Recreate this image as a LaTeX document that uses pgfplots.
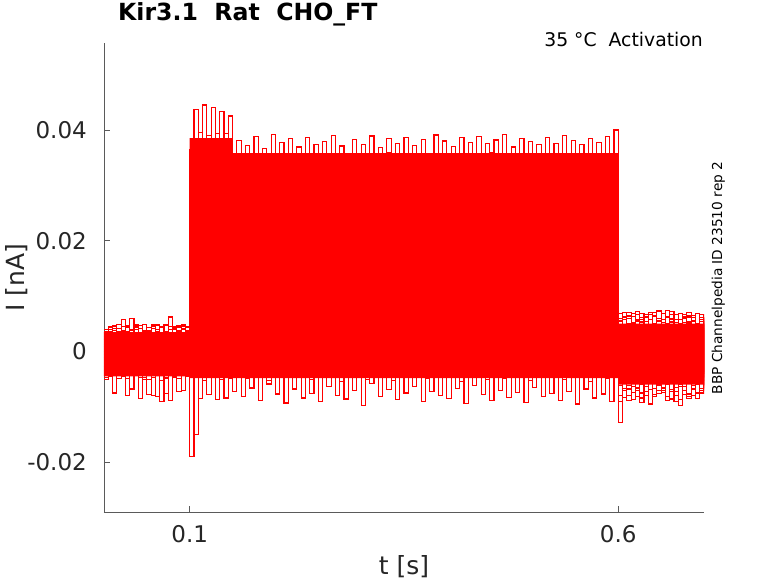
\documentclass[border=0pt]{standalone}
\usepackage{pgfplots}
\pgfplotsset{compat=1.18}
\usepackage{pgfplotstable}
\usepackage{fontspec}
\setmainfont{DejaVu Sans}
\definecolor{axgray}{RGB}{90,90,90}
\definecolor{txtgray}{RGB}{38,38,38}
\definecolor{trace}{RGB}{255,0,0}

\pgfplotstableread{
x t1 t2 t3 t4 t5 t6 t7 t8 t9 t10 t11 t12
0.000 0.0021 -0.0034 0.0008 -0.0047 0.0035 -0.0012 0.0040 -0.0028 0.0013 -0.0051 0.0027 -0.0006
0.005 -0.0038 0.0029 -0.0041 0.0036 -0.0019 0.0044 -0.0033 0.0017 -0.0045 0.0031 -0.0024 0.0039
0.010 0.0042 -0.0017 0.0033 -0.0008 0.0046 -0.0039 0.0011 -0.0075 0.0038 -0.0014 0.0045 -0.0031
0.015 -0.0026 0.0048 -0.0013 0.0027 -0.0044 0.0019 -0.0049 0.0035 -0.0022 0.0041 -0.0036 0.0012
0.020 0.0034 -0.0043 0.0045 -0.0031 0.0009 -0.0027 0.0037 -0.0011 0.0058 -0.0046 0.0016 -0.0040
0.025 -0.0049 0.0015 -0.0030 0.0043 -0.0035 0.0032 -0.0018 0.0046 -0.0039 0.0024 -0.0080 0.0036
0.030 0.0018 -0.0036 0.0060 -0.0022 0.0040 -0.0068 0.0029 -0.0033 0.0007 -0.0029 0.0038 -0.0015
0.035 -0.0033 0.0040 -0.0020 0.0049 -0.0012 0.0023 -0.0044 0.0021 -0.0031 0.0047 -0.0009 0.0044
0.040 0.0047 -0.0021 0.0026 -0.0039 0.0031 -0.0085 0.0012 -0.0040 0.0042 -0.0018 0.0033 -0.0047
0.045 -0.0015 0.0035 -0.0047 0.0014 -0.0050 0.0038 -0.0029 0.0049 -0.0016 0.0028 -0.0041 0.0025
0.050 0.0029 -0.0050 0.0017 -0.0033 0.0037 -0.0011 0.0043 -0.0024 0.0034 -0.0078 0.0022 -0.0034
0.055 -0.0044 0.0023 -0.0036 0.0041 -0.0027 0.0046 -0.0079 0.0031 -0.0047 0.0019 -0.0030 0.0049
0.060 0.0036 -0.0029 0.0040 -0.0016 0.0049 -0.0032 0.0025 -0.0082 0.0028 -0.0035 0.0047 -0.0020
0.065 -0.0052 0.0045 -0.0025 0.0032 -0.0041 0.0015 -0.0037 0.0018 -0.0090 0.0043 -0.0019 0.0030
0.070 0.0013 -0.0040 0.0048 -0.0076 0.0022 -0.0043 0.0047 -0.0030 0.0016 -0.0048 0.0035 -0.0043
0.075 -0.0030 0.0031 -0.0014 0.0045 -0.0035 0.0062 -0.0021 0.0040 -0.0041 0.0026 -0.0088 0.0018
0.080 0.0044 -0.0047 0.0032 -0.0026 0.0041 -0.0024 0.0033 -0.0045 0.0039 -0.0012 0.0029 -0.0038
0.085 -0.0021 0.0026 -0.0049 0.0038 -0.0013 0.0035 -0.0072 0.0027 -0.0025 0.0044 -0.0037 0.0046
0.090 0.0039 -0.0014 0.0021 -0.0042 0.0046 -0.0070 0.0019 -0.0036 0.0048 -0.0031 0.0041 -0.0027
0.095 -0.0046 0.0037 -0.0039 0.0025 -0.0028 0.0030 -0.0043 0.0044 -0.0017 0.0036 -0.0026 0.0033
0.100 -0.0190 0.0027 -0.0011 0.0083 0.0073 0.0179 0.0135 0.0226 0.0194 0.0313 0.0365 0.0355
0.105 -0.0005 -0.0150 0.0074 0.0026 0.0141 0.0088 0.0208 0.0161 0.0269 0.0233 0.0309 0.0437
0.110 -0.0085 0.0038 -0.0016 0.0112 0.0057 0.0174 0.0122 0.0251 0.0203 0.0319 0.0396 0.0345
0.115 0.0002 -0.0052 0.0069 0.0021 0.0148 0.0093 0.0215 0.0166 0.0287 0.0230 0.0306 0.0445
0.120 -0.0078 0.0035 -0.0003 0.0107 0.0054 0.0183 0.0129 0.0248 0.0195 0.0315 0.0390 0.0340
0.125 0.0006 -0.0046 0.0077 0.0019 0.0137 0.0095 0.0219 0.0157 0.0283 0.0237 0.0304 0.0440
0.130 -0.0087 0.0044 -0.0015 0.0101 0.0060 0.0180 0.0133 0.0245 0.0191 0.0323 0.0394 0.0337
0.135 -0.0001 -0.0050 0.0072 0.0024 0.0146 0.0090 0.0213 0.0163 0.0281 0.0228 0.0311 0.0433
0.140 -0.0084 0.0032 -0.0018 0.0114 0.0051 0.0176 0.0125 0.0252 0.0199 0.0318 0.0393 0.0338
0.145 0.0004 -0.0048 0.0075 0.0027 0.0143 0.0087 0.0217 0.0160 0.0288 0.0232 0.0290 0.0425
0.150 -0.0072 0.0028 0.0066 0.0031 0.0139 0.0102 0.0141 0.0238 0.0207 0.0309 0.0347 0.0303
0.155 -0.0008 -0.0039 -0.0004 0.0098 0.0063 0.0171 0.0204 0.0172 0.0276 0.0241 0.0275 0.0381
0.160 -0.0081 0.0037 0.0035 0.0022 0.0128 0.0094 0.0133 0.0249 0.0236 0.0318 0.0339 0.0296
0.165 0.0003 -0.0048 0.0074 0.0107 0.0058 0.0178 0.0212 0.0163 0.0198 0.0232 0.0268 0.0372
0.170 -0.0066 0.0019 -0.0012 0.0029 0.0146 0.0089 0.0176 0.0231 0.0283 0.0321 0.0355 0.0314
0.175 -0.0014 -0.0031 0.0058 0.0112 0.0071 0.0163 0.0126 0.0159 0.0203 0.0238 0.0306 0.0388
0.180 -0.0088 0.0041 -0.0019 0.0018 0.0133 0.0097 0.0216 0.0244 0.0268 0.0297 0.0263 0.0299
0.185 0.0006 -0.0002 0.0077 0.0094 0.0052 0.0182 0.0129 0.0168 0.0195 0.0229 0.0352 0.0366
0.190 -0.0059 -0.0053 0.0004 0.0037 0.0149 0.0112 0.0198 0.0253 0.0279 0.0311 0.0271 0.0338
0.195 -0.0003 0.0033 0.0069 0.0103 0.0066 0.0159 0.0138 0.0176 0.0212 0.0247 0.0341 0.0392
0.200 -0.0077 -0.0044 -0.0009 0.0061 0.0141 0.0091 0.0207 0.0236 0.0287 0.0322 0.0282 0.0305
0.205 -0.0021 0.0025 0.0079 0.0024 0.0055 0.0184 0.0123 0.0161 0.0239 0.0226 0.0358 0.0377
0.210 -0.0093 -0.0036 -0.0016 0.0109 0.0137 0.0098 0.0219 0.0247 0.0193 0.0316 0.0266 0.0292
0.215 0.0000 0.0043 0.0062 0.0016 0.0061 0.0176 0.0131 0.0208 0.0281 0.0234 0.0344 0.0384
0.220 -0.0068 -0.0047 0.0027 0.0115 0.0144 0.0086 0.0211 0.0157 0.0205 0.0301 0.0277 0.0307
0.225 -0.0011 0.0039 0.0071 0.0033 0.0069 0.0167 0.0124 0.0251 0.0273 0.0242 0.0349 0.0369
0.230 -0.0084 -0.0028 -0.0007 0.0096 0.0103 0.0108 0.0203 0.0171 0.0197 0.0324 0.0261 0.0301
0.235 0.0008 0.0031 0.0080 0.0020 0.0149 0.0181 0.0142 0.0240 0.0285 0.0231 0.0337 0.0386
0.240 -0.0076 -0.0051 -0.0013 0.0104 0.0057 0.0093 0.0217 0.0164 0.0243 0.0306 0.0274 0.0295
0.245 -0.0006 -0.0008 0.0067 0.0028 0.0131 0.0172 0.0128 0.0237 0.0201 0.0239 0.0356 0.0373
0.250 -0.0090 0.0035 -0.0005 0.0111 0.0064 0.0101 0.0206 0.0169 0.0277 0.0319 0.0279 0.0318
0.255 -0.0018 -0.0042 0.0075 0.0025 0.0142 0.0179 0.0137 0.0254 0.0209 0.0227 0.0345 0.0379
0.260 -0.0063 0.0022 -0.0020 0.0099 0.0053 0.0088 0.0214 0.0158 0.0289 0.0270 0.0268 0.0297
0.265 0.0005 -0.0037 0.0060 0.0019 0.0147 0.0161 0.0121 0.0229 0.0196 0.0313 0.0333 0.0390
0.270 -0.0079 0.0044 0.0032 0.0113 0.0059 0.0104 0.0221 0.0174 0.0264 0.0236 0.0285 0.0309
0.275 -0.0012 -0.0054 0.0073 0.0030 0.0126 0.0185 0.0134 0.0246 0.0214 0.0320 0.0353 0.0371
0.280 -0.0086 0.0027 -0.0010 0.0092 0.0068 0.0096 0.0200 0.0199 0.0271 0.0230 0.0263 0.0293
0.285 -0.0001 -0.0033 0.0078 0.0017 0.0150 0.0168 0.0139 0.0255 0.0192 0.0304 0.0342 0.0347
0.290 -0.0071 0.0040 -0.0017 0.0108 0.0051 0.0087 0.0213 0.0162 0.0280 0.0244 0.0272 0.0383
0.295 -0.0016 -0.0045 0.0065 0.0035 0.0138 0.0174 0.0120 0.0232 0.0206 0.0317 0.0350 0.0302
0.300 -0.0097 0.0030 -0.0002 0.0101 0.0097 0.0099 0.0208 0.0166 0.0274 0.0228 0.0262 0.0374
0.305 0.0007 -0.0050 0.0076 0.0023 0.0145 0.0183 0.0127 0.0250 0.0199 0.0325 0.0357 0.0298
0.310 -0.0058 0.0036 -0.0014 0.0114 0.0062 0.0132 0.0218 0.0160 0.0286 0.0240 0.0270 0.0389
0.315 -0.0009 -0.0029 0.0068 0.0026 0.0134 0.0090 0.0132 0.0243 0.0204 0.0300 0.0348 0.0306
0.320 -0.0082 0.0042 -0.0018 0.0100 0.0056 0.0177 0.0210 0.0173 0.0270 0.0233 0.0276 0.0368
0.325 0.0002 -0.0040 0.0072 0.0021 0.0148 0.0095 0.0125 0.0239 0.0211 0.0323 0.0312 0.0291
0.330 -0.0069 0.0024 -0.0008 0.0110 0.0065 0.0169 0.0220 0.0156 0.0282 0.0237 0.0359 0.0385
0.335 -0.0013 -0.0052 0.0079 0.0034 0.0140 0.0103 0.0136 0.0252 0.0194 0.0310 0.0267 0.0300
0.340 -0.0087 0.0038 0.0029 0.0106 0.0054 0.0180 0.0205 0.0170 0.0278 0.0226 0.0340 0.0376
0.345 -0.0004 -0.0035 0.0063 0.0016 0.0151 0.0092 0.0130 0.0245 0.0202 0.0321 0.0280 0.0304
0.350 -0.0075 0.0045 -0.0015 0.0097 0.0060 0.0173 0.0215 0.0165 0.0288 0.0248 0.0346 0.0387
0.355 -0.0019 -0.0046 0.0070 0.0028 0.0136 0.0086 0.0122 0.0234 0.0190 0.0315 0.0265 0.0296
0.360 -0.0064 0.0029 -0.0011 0.0115 0.0099 0.0186 0.0202 0.0175 0.0266 0.0232 0.0351 0.0372
0.365 0.0004 -0.0038 0.0081 0.0022 0.0143 0.0107 0.0138 0.0248 0.0215 0.0302 0.0278 0.0310
0.370 -0.0091 0.0034 -0.0006 0.0102 0.0058 0.0165 0.0209 0.0203 0.0284 0.0239 0.0343 0.0383
0.375 -0.0010 -0.0049 0.0066 0.0032 0.0147 0.0094 0.0124 0.0241 0.0197 0.0318 0.0260 0.0294
0.380 -0.0073 0.0041 -0.0019 0.0111 0.0067 0.0178 0.0218 0.0161 0.0272 0.0229 0.0354 0.0335
0.385 -0.0002 -0.0043 0.0077 0.0018 0.0139 0.0089 0.0133 0.0253 0.0208 0.0322 0.0271 0.0391
0.390 -0.0080 0.0026 -0.0004 0.0095 0.0052 0.0170 0.0204 0.0168 0.0281 0.0235 0.0338 0.0303
0.395 -0.0015 -0.0032 0.0074 0.0036 0.0152 0.0100 0.0129 0.0238 0.0200 0.0308 0.0264 0.0380
0.400 -0.0085 0.0043 -0.0012 0.0108 0.0063 0.0182 0.0214 0.0157 0.0276 0.0244 0.0357 0.0297
0.405 0.0001 -0.0047 0.0069 0.0020 0.0130 0.0097 0.0140 0.0249 0.0213 0.0316 0.0283 0.0370
0.410 -0.0067 0.0020 -0.0016 0.0113 0.0055 0.0175 0.0168 0.0172 0.0287 0.0231 0.0349 0.0308
0.415 -0.0007 -0.0055 0.0078 0.0027 0.0144 0.0091 0.0221 0.0235 0.0193 0.0324 0.0269 0.0386
0.420 -0.0094 0.0033 -0.0009 0.0099 0.0070 0.0166 0.0123 0.0163 0.0269 0.0227 0.0336 0.0299
0.425 -0.0020 -0.0039 0.0071 0.0031 0.0149 0.0105 0.0212 0.0247 0.0204 0.0312 0.0273 0.0377
0.430 -0.0061 0.0039 -0.0017 0.0110 0.0057 0.0181 0.0135 0.0159 0.0285 0.0238 0.0352 0.0293
0.435 0.0003 -0.0044 0.0064 0.0024 0.0127 0.0088 0.0207 0.0255 0.0198 0.0305 0.0266 0.0388
0.440 -0.0078 0.0031 -0.0003 0.0105 0.0066 0.0171 0.0126 0.0210 0.0279 0.0234 0.0344 0.0311
0.445 -0.0012 -0.0051 0.0080 0.0019 0.0146 0.0096 0.0219 0.0242 0.0210 0.0320 0.0277 0.0375
0.450 -0.0089 0.0046 -0.0014 0.0098 0.0053 0.0184 0.0131 0.0167 0.0290 0.0243 0.0359 0.0300
0.455 -0.0003 -0.0030 0.0067 0.0033 0.0141 0.0093 0.0216 0.0233 0.0195 0.0309 0.0262 0.0382
0.460 -0.0070 0.0037 -0.0020 0.0112 0.0061 0.0168 0.0121 0.0160 0.0267 0.0230 0.0347 0.0296
0.465 -0.0017 -0.0048 0.0075 0.0025 0.0150 0.0101 0.0209 0.0251 0.0206 0.0323 0.0281 0.0392
0.470 -0.0083 0.0028 -0.0007 0.0103 0.0050 0.0179 0.0137 0.0174 0.0283 0.0240 0.0340 0.0305
0.475 0.0006 -0.0036 0.0073 0.0021 0.0135 0.0087 0.0220 0.0239 0.0201 0.0314 0.0270 0.0369
0.480 -0.0074 0.0044 -0.0013 0.0109 0.0068 0.0176 0.0128 0.0156 0.0275 0.0228 0.0355 0.0292
0.485 -0.0008 -0.0041 0.0062 0.0030 0.0148 0.0098 0.0211 0.0246 0.0192 0.0319 0.0275 0.0384
0.490 -0.0092 0.0032 -0.0010 0.0096 0.0059 0.0185 0.0124 0.0169 0.0286 0.0236 0.0350 0.0309
0.495 -0.0001 -0.0053 0.0079 0.0017 0.0137 0.0090 0.0217 0.0254 0.0207 0.0306 0.0264 0.0379
0.500 -0.0065 0.0023 -0.0018 0.0114 0.0054 0.0172 0.0133 0.0162 0.0271 0.0233 0.0342 0.0298
0.505 -0.0014 -0.0034 0.0070 0.0029 0.0143 0.0104 0.0206 0.0244 0.0196 0.0325 0.0280 0.0373
0.510 -0.0081 0.0040 -0.0005 0.0101 0.0062 0.0181 0.0139 0.0170 0.0284 0.0242 0.0356 0.0303
0.515 0.0002 -0.0046 0.0076 0.0022 0.0152 0.0095 0.0214 0.0236 0.0212 0.0311 0.0268 0.0387
0.520 -0.0076 0.0035 -0.0015 0.0107 0.0056 0.0169 0.0122 0.0158 0.0278 0.0229 0.0346 0.0295
0.525 -0.0006 -0.0042 0.0068 0.0034 0.0140 0.0086 0.0218 0.0250 0.0199 0.0318 0.0272 0.0376
0.530 -0.0088 0.0027 -0.0008 0.0111 0.0064 0.0177 0.0130 0.0165 0.0288 0.0237 0.0339 0.0306
0.535 -0.0011 -0.0050 0.0081 0.0018 0.0147 0.0100 0.0210 0.0241 0.0203 0.0321 0.0263 0.0390
0.540 -0.0072 0.0038 -0.0012 0.0100 0.0051 0.0183 0.0126 0.0173 0.0273 0.0246 0.0353 0.0294
0.545 0.0000 -0.0037 0.0066 0.0027 0.0134 0.0092 0.0219 0.0248 0.0208 0.0304 0.0276 0.0381
0.550 -0.0095 0.0042 -0.0019 0.0110 0.0060 0.0174 0.0136 0.0160 0.0282 0.0232 0.0348 0.0301
0.555 -0.0016 -0.0045 0.0074 0.0023 0.0149 0.0089 0.0208 0.0253 0.0194 0.0317 0.0267 0.0374
0.560 -0.0068 0.0030 -0.0006 0.0104 0.0057 0.0180 0.0129 0.0168 0.0276 0.0241 0.0358 0.0297
0.565 -0.0004 -0.0054 0.0078 0.0031 0.0138 0.0099 0.0215 0.0237 0.0205 0.0310 0.0279 0.0385
0.570 -0.0084 0.0036 -0.0016 0.0112 0.0066 0.0170 0.0123 0.0157 0.0285 0.0227 0.0343 0.0308
0.575 -0.0009 -0.0039 0.0065 0.0020 0.0145 0.0106 0.0212 0.0245 0.0198 0.0322 0.0270 0.0378
0.580 -0.0077 0.0025 -0.0011 0.0097 0.0053 0.0186 0.0138 0.0171 0.0280 0.0235 0.0351 0.0299
0.585 0.0005 -0.0048 0.0072 0.0035 0.0150 0.0094 0.0220 0.0252 0.0211 0.0313 0.0265 0.0388
0.590 -0.0090 0.0043 -0.0014 0.0106 0.0061 0.0175 0.0125 0.0164 0.0274 0.0238 0.0345 0.0302
0.595 -0.0013 -0.0040 0.0070 0.0026 0.0141 0.0097 0.0209 0.0240 0.0202 0.0319 0.0274 0.0400
0.600 -0.0062 0.0055 -0.0128 0.0041 -0.0079 0.0068 -0.0045 0.0032 -0.0090 0.0060 -0.0036 0.0049
0.605 0.0048 -0.0071 0.0036 -0.0058 0.0062 -0.0040 0.0057 -0.0083 0.0044 -0.0067 0.0071 -0.0052
0.610 -0.0055 0.0059 -0.0068 0.0050 -0.0037 0.0070 -0.0079 0.0046 -0.0061 0.0038 -0.0088 0.0064
0.615 0.0063 -0.0046 0.0052 -0.0087 0.0045 -0.0063 0.0034 -0.0056 0.0069 -0.0074 0.0051 -0.0039
0.620 -0.0081 0.0040 -0.0039 0.0066 -0.0070 0.0047 -0.0058 0.0072 -0.0044 0.0055 -0.0066 0.0058
0.625 0.0037 -0.0084 0.0069 -0.0033 0.0058 -0.0092 0.0061 -0.0041 0.0053 -0.0059 0.0043 -0.0075
0.630 -0.0049 0.0066 -0.0056 0.0054 -0.0064 0.0039 -0.0072 0.0063 -0.0080 0.0047 -0.0051 0.0061
0.635 0.0070 -0.0038 0.0044 -0.0069 0.0035 -0.0055 0.0048 -0.0095 0.0058 -0.0043 0.0067 -0.0047
0.640 -0.0067 0.0051 -0.0082 0.0043 -0.0052 0.0064 -0.0036 0.0050 -0.0057 0.0071 -0.0078 0.0036
0.645 0.0055 -0.0060 0.0038 -0.0048 0.0073 -0.0076 0.0059 -0.0045 0.0040 -0.0062 0.0049 -0.0070
0.650 -0.0074 0.0045 -0.0050 0.0069 -0.0043 0.0052 -0.0066 0.0068 -0.0071 0.0035 -0.0054 0.0057
0.655 0.0042 -0.0089 0.0061 -0.0040 0.0050 -0.0034 0.0074 -0.0060 0.0063 -0.0081 0.0039 -0.0044
0.660 -0.0058 0.0072 -0.0073 0.0057 -0.0086 0.0060 -0.0048 0.0037 -0.0050 0.0066 -0.0069 0.0053
0.665 0.0066 -0.0053 0.0049 -0.0065 0.0041 -0.0080 0.0036 -0.0072 0.0052 -0.0037 0.0058 -0.0091
0.670 -0.0043 0.0038 -0.0087 0.0047 -0.0059 0.0043 -0.0063 0.0058 -0.0098 0.0050 -0.0045 0.0068
0.675 0.0059 -0.0064 0.0040 -0.0078 0.0067 -0.0051 0.0052 -0.0039 0.0045 -0.0070 0.0062 -0.0040
0.680 -0.0085 0.0053 -0.0044 0.0062 -0.0046 0.0071 -0.0082 0.0065 -0.0055 0.0044 -0.0077 0.0051
0.685 0.0046 -0.0042 0.0065 -0.0051 0.0055 -0.0068 0.0041 -0.0079 0.0061 -0.0056 0.0037 -0.0062
0.690 -0.0053 0.0068 -0.0059 0.0039 -0.0075 0.0050 -0.0057 0.0044 -0.0047 0.0069 -0.0085 0.0045
0.695 0.0061 -0.0075 0.0047 -0.0070 0.0038 -0.0045 0.0066 -0.0052 0.0057 -0.0040 0.0054 -0.0067
0.700 -0.0040 0.0049 -0.0061 0.0055 -0.0066 0.0062 -0.0038 0.0060 -0.0063 0.0052 -0.0048 0.0043
}\sweeps

% dense core where the overlapping sweeps cover everything (nA)
\pgfplotstableread{
x y
0.000 -0.0045
0.100 -0.0045
0.100 -0.0048
0.600 -0.0048
0.600 -0.0060
0.700 -0.0060
0.700 0.0050
0.600 0.0050
0.600 0.0358
0.150 0.0358
0.150 0.0385
0.100 0.0385
0.100 0.0035
0.000 0.0035
}\core

\begin{document}
\begin{tikzpicture}
\useasboundingbox (-104pt,-71pt) rectangle (674pt,512pt);
\fill[white] (-104pt,-71pt) rectangle (674pt,512pt);
\begin{axis}[
  at={(0pt,0pt)}, anchor=south west,
  scale only axis, width=600pt, height=469pt,
  xmin=0, xmax=0.7, ymin=-0.029, ymax=0.0557,
  scaled y ticks=false, scaled x ticks=false,
  axis x line*=bottom, axis y line*=left,
  axis line style={draw=axgray, line width=0.8pt},
  tick style={draw=axgray, line width=0.8pt},
  tick align=inside, major tick length=6pt,
  xtick={0.1,0.6}, xticklabels={0.1,0.6},
  ytick={-0.02,0,0.02,0.04}, yticklabels={-0.02,0,0.02,0.04},
  ticklabel style={font=\fontsize{23}{27}\selectfont, text=txtgray, inner sep=0pt},
  xticklabel style={anchor=north, yshift=-13pt},
  yticklabel style={anchor=east, xshift=-17pt},
  xlabel={t [s]}, ylabel={I [nA]},
  label style={font=\fontsize{25}{30}\selectfont, text=txtgray, inner sep=0pt},
  xlabel style={at={(axis description cs:0.5,-0.1343)}, anchor=base},
  ylabel style={at={(axis description cs:-0.1317,0.5)}, anchor=base, rotate=0},
  title={Kir3.1\ \ Rat\ \ CHO\_FT},
  title style={at={(axis description cs:0.0233,1.0362)}, anchor=base west, font=\bfseries\fontsize{23.6}{28}\selectfont, inner sep=0pt},
  clip mode=individual,
]
\addplot[draw=none, fill=trace] table[x=x, y=y] {\core} -- cycle;
\pgfplotsinvokeforeach{1,...,12}{
  \addplot[const plot, draw=trace, line width=1.2pt] table[x=x, y=t#1] {\sweeps};
}
\node[anchor=base east, inner sep=0pt, font=\fontsize{18.8}{22}\selectfont] at (axis description cs:0.99833,0.99147) {35 °C\ \ Activation};
\node[anchor=base, rotate=90, inner sep=0pt, font=\fontsize{13.7}{16}\selectfont] at (axis description cs:1.03,0.4989) {BBP Channelpedia ID 23510 rep 2};
\end{axis}
\end{tikzpicture}
\end{document}
